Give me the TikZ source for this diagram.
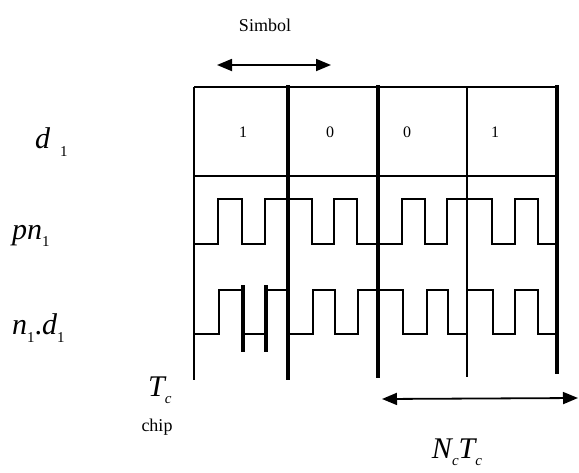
\documentclass[tikz,border=0pt]{standalone}
\usepackage{fontspec}
\setmainfont{Liberation Serif}
\usetikzlibrary{arrows.meta}
\newcommand\sbx[1]{\raisebox{-0.25em}{\fontsize{15}{15}\selectfont #1}}
\tikzset{
  thinline/.style={line width=1.5pt},
  thickline/.style={line width=4.5pt},
  wave/.style={line width=1.8pt, line join=miter},
  biarrow/.style={line width=1.8pt, {Triangle[length=15pt,width=12pt]}-{Triangle[length=15pt,width=12pt]}},
  rowlabel/.style={font=\fontsize{30}{34}\selectfont\itshape, inner sep=0pt},
  digit/.style={font=\fontsize{16}{18}\selectfont, inner sep=0pt},
  small/.style={font=\fontsize{18}{22}\selectfont, inner sep=0pt}
}
\begin{document}
\begin{tikzpicture}[x=1pt,y=-1pt]
\useasboundingbox (0,0) rectangle (579,472);
% grid
\draw[thinline] (194,87) -- (557,87);
\draw[thinline] (194,176) -- (557,176);
\draw[thinline] (194,87) -- (194,380);
\draw[thinline] (467,87) -- (467,377);
\draw[thickline] (288,85) -- (288,380);
\draw[thickline] (378,85) -- (378,378);
\draw[thickline] (557,85) -- (557,374);
% symbol bits
\node[digit] (b1) at (243,132) {1};
\node[digit] (b2) at (330,132) {0};
\node[digit] (b3) at (407,132) {0};
\node[digit] (b4) at (495,132) {1};
% pn1 waveform
\draw[wave] (194,244) -- (218,244) -- (218,199) -- (242,199) -- (242,244) -- (265,244) -- (265,199)
  -- (312,199) -- (312,244) -- (334,244) -- (334,199) -- (357,199) -- (357,244)
  -- (402,244) -- (402,199) -- (425,199) -- (425,244) -- (447,244) -- (447,199)
  -- (492,199) -- (492,244) -- (515,244) -- (515,199) -- (538,199) -- (538,244) -- (557,244);
% n1.d1 waveform
\draw[wave] (194,334) -- (219,334) -- (219,290) -- (243,290) -- (243,334) -- (266,334) -- (266,290)
  -- (288,290) -- (288,334) -- (313,334) -- (313,290) -- (335,290) -- (335,334) -- (358,334) -- (358,290)
  -- (403,290) -- (403,334) -- (427,334) -- (427,290) -- (448,290) -- (448,334) -- (467,334) -- (467,290)
  -- (493,290) -- (493,334) -- (515,334) -- (515,290) -- (538,290) -- (538,334) -- (557,334);
\draw[thickline] (243,285) -- (243,352);
\draw[thickline] (266,285) -- (266,352);
% labels
\node[small] (simbol) at (265,25) {Simbol};
\coordinate (sa) at (217,65);
\coordinate (sb) at (331,65);
\draw[biarrow] (sa) -- (sb);
\node[rowlabel, anchor=west] (d1) at (35,142) {d\hspace{10pt}\sbx{\upshape 1}};
\node[rowlabel, anchor=west] (pn1) at (12,236) {pn\sbx{\upshape 1}};
\node[rowlabel, anchor=west] (nd1) at (12,328) {n\sbx{\upshape 1}\upshape.\itshape d\sbx{\upshape 1}};
\node[rowlabel, anchor=west] (tc) at (148,390) {T\sbx{\itshape c}};
\node[small] (chip) at (157,427) {chip};
\coordinate (na) at (382,399);
\coordinate (nb) at (578,398);
\draw[biarrow] (na) -- (nb);
\node[rowlabel] (nctc) at (457,452) {N\sbx{\itshape c}T\sbx{\itshape c}};
\end{tikzpicture}
\end{document}
